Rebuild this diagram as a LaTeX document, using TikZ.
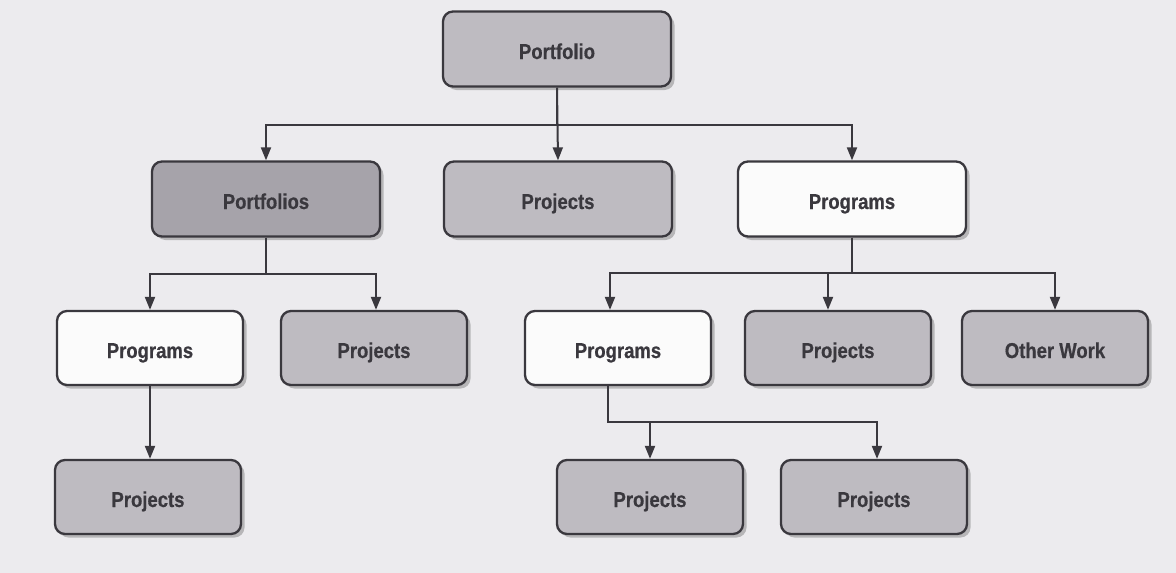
\documentclass[tikz,border=0pt]{standalone}
\usepackage{fontspec}
\newfontfamily\boxfont[FakeStretch=0.86,FakeBold=0.6]{Liberation Sans}
\usetikzlibrary{arrows.meta,shadows}
\definecolor{paper}{RGB}{236,235,238}
\definecolor{ink}{RGB}{58,56,62}
\definecolor{greybox}{RGB}{190,187,193}
\definecolor{darkbox}{RGB}{166,163,170}
\definecolor{whitebox}{RGB}{251,251,251}
\tikzset{
  unit/.style={rectangle, rounded corners=10pt, draw=ink, line width=2.3pt,
    text=ink, font=\boxfont\bfseries\fontsize{21.5}{25}\selectfont,
    text height=20pt, text depth=0pt,
    drop shadow={shadow xshift=3.5pt, shadow yshift=-3.5pt, fill=black!45, opacity=0.55}},
  wide/.style={unit, minimum width=228pt, minimum height=75pt},
  narrow/.style={unit, minimum width=186pt, minimum height=74pt},
  grey/.style={fill=greybox},
  dark/.style={fill=darkbox},
  plain/.style={fill=whitebox},
  link/.style={draw=ink, line width=2pt, -{Triangle[length=13pt,width=10pt]}},
}
\begin{document}
\begin{tikzpicture}[x=1pt,y=-1pt]
  \fill[paper] (0,0) rectangle (1176,573);
  \useasboundingbox (0,0) rectangle (1176,573);

  % top level
  \node[wide, grey] (portfolio) at (557,49) {Portfolio};

  % second level
  \node[wide, dark]  (portfolios) at (266,199) {Portfolios};
  \node[wide, grey]  (projA)      at (558,199) {Projects};
  \node[wide, plain] (progA)      at (852,199) {Programs};

  % third level
  \node[narrow, plain] (progB) at (150,348) {Programs};
  \node[narrow, grey]  (projB) at (374,348) {Projects};
  \node[narrow, plain] (progC) at (618,348) {Programs};
  \node[narrow, grey]  (projC) at (838,348) {Projects};
  \node[narrow, grey]  (other) at (1055,348) {Other Work};

  % fourth level
  \node[narrow, grey] (projD) at (148,497) {Projects};
  \node[narrow, grey] (projE) at (650,497) {Projects};
  \node[narrow, grey] (projF) at (874,497) {Projects};

  % portfolio branches
  \draw[link] (portfolio.south) -- ++(0,37) -| (portfolios.north);
  \draw[link] (portfolio.south) -- (projA.north);
  \draw[link] (portfolio.south) -- ++(0,37) -| (progA.north);

  % sub-portfolio branches
  \draw[link] (portfolios.south) -- ++(0,36) -| (progB.north);
  \draw[link] (portfolios.south) -- ++(0,36) -| ([xshift=2pt]projB.north);

  % program branches
  \draw[link] (progA.south) -- ++(0,35) -| ([xshift=-8pt]progC.north);
  \draw[link] (progA.south) -- ++(0,35) -| ([xshift=-10pt]projC.north);
  \draw[link] (progA.south) -- ++(0,35) -| (other.north);

  % projects under programs
  \draw[link] (progB.south) -- (projD.north -| progB.south);
  \draw[link] ([xshift=-10pt]progC.south) -- ++(0,36) -| (projE.north);
  \draw[link] ([xshift=-10pt]progC.south) -- ++(0,36) -| ([xshift=3pt]projF.north);
\end{tikzpicture}
\end{document}
